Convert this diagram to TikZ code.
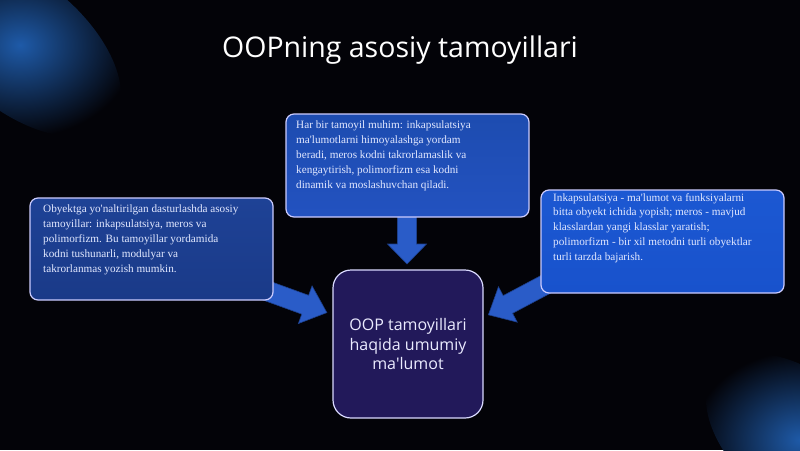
\documentclass[tikz,border=0pt]{standalone}
\usepackage{fontspec}
\setmainfont{Liberation Serif}
\newfontfamily\titlefont{Open Sans}
\usetikzlibrary{calc}
\definecolor{bgcol}{HTML}{030308}
\definecolor{glowblue}{HTML}{1E5AA8}
\definecolor{txtcol}{HTML}{E2E8FF}
\definecolor{arrowcol}{HTML}{2A5CC8}
\definecolor{centerfill}{HTML}{22195A}
\definecolor{topA}{HTML}{1D4CB0}
\definecolor{topB}{HTML}{2352C0}
\definecolor{leftA}{HTML}{1E4296}
\definecolor{leftB}{HTML}{1A3A88}
\definecolor{rightA}{HTML}{1C58D2}
\definecolor{rightB}{HTML}{1852CC}
\tikzset{
  infobox/.style={draw=white!80!blue, line width=1.2pt, rounded corners=8pt, inner sep=0pt,
    minimum width=243pt, minimum height=103pt},
  infotext/.style={anchor=north west, align=left, text=txtcol, inner sep=0pt,
    font=\fontsize{11.2}{14.8}\selectfont},
  blockarrow/.style={fill=arrowcol, draw=arrowcol!70!black, line width=0.6pt},
}
\begin{document}
\begin{tikzpicture}[x=1pt,y=-1pt]
% background
\fill[bgcol] (0,0) rectangle (800,450);
\useasboundingbox (0,0) rectangle (800,450);
\begin{scope}
\clip (0,0) rectangle (800,450);
\shade[inner color=glowblue, outer color=bgcol, rotate around={-40:(20,45)}] (20,45) ellipse (120 and 65);
\shade[inner color=glowblue, outer color=bgcol, rotate around={-40:(800,440)}] (800,440) ellipse (110 and 65);
\end{scope}
% title
\node[text=white, font=\titlefont\fontsize{28.5}{34}\selectfont] (title) at (400,50) {OOPning asosiy tamoyillari};
% arrows (behind boxes)
\begin{scope}[shift={(407,214)}, rotate=-90]
\path[blockarrow] (0,-9.5) -- (30,-9.5) -- (30,-19.5) -- (50,0) -- (30,19.5) -- (30,9.5) -- (0,9.5) -- cycle;
\end{scope}
\begin{scope}[shift={(262,289)}, rotate=-20]
\path[blockarrow] (0,-10) -- (46,-10) -- (46,-20) -- (69,0) -- (46,20) -- (46,10) -- (0,10) -- cycle;
\end{scope}
\begin{scope}[shift={(552,281)}, rotate=208]
\path[blockarrow] (0,-10) -- (50,-10) -- (50,-20) -- (72,0) -- (50,20) -- (50,10) -- (0,10) -- cycle;
\end{scope}
% boxes
\node[infobox, top color=topA, bottom color=topB] (topbox) at (407.5,165.5) {};
\node[infobox, top color=leftA, bottom color=leftB, minimum height=102pt] (leftbox) at (151.5,249) {};
\node[infobox, top color=rightA, bottom color=rightB] (rightbox) at (662.5,241.5) {};
\node[fill=centerfill, draw=white!85!blue, line width=1.2pt, rounded corners=18pt, minimum width=150pt, minimum height=148pt, inner sep=0pt] (centerbox) at (408,344) {};
% texts
\node[infotext] (toptext) at (296,121) {Har bir tamoyil muhim: inkapsulatsiya\\ma\textquotesingle lumotlarni himoyalashga yordam\\beradi, meros kodni takrorlamaslik va\\kengaytirish, polimorfizm esa kodni\\dinamik va moslashuvchan qiladi.};
\node[infotext] (lefttext) at (43,205) {Obyektga yo\textquotesingle naltirilgan dasturlashda asosiy\\tamoyillar: inkapsulatsiya, meros va\\polimorfizm. Bu tamoyillar yordamida\\kodni tushunarli, modulyar va\\takrorlanmas yozish mumkin.};
\node[infotext] (righttext) at (553,193) {Inkapsulatsiya - ma\textquotesingle lumot va funksiyalarni\\bitta obyekt ichida yopish; meros - mavjud\\klasslardan yangi klasslar yaratish;\\polimorfizm - bir xil metodni turli obyektlar\\turli tarzda bajarish.};
\node[align=center, text=white!92!blue, font=\titlefont\fontsize{16}{19.5}\selectfont] (center) at (centerbox) {OOP tamoyillari\\haqida umumiy\\ma\textquotesingle lumot};
\end{tikzpicture}
\end{document}
